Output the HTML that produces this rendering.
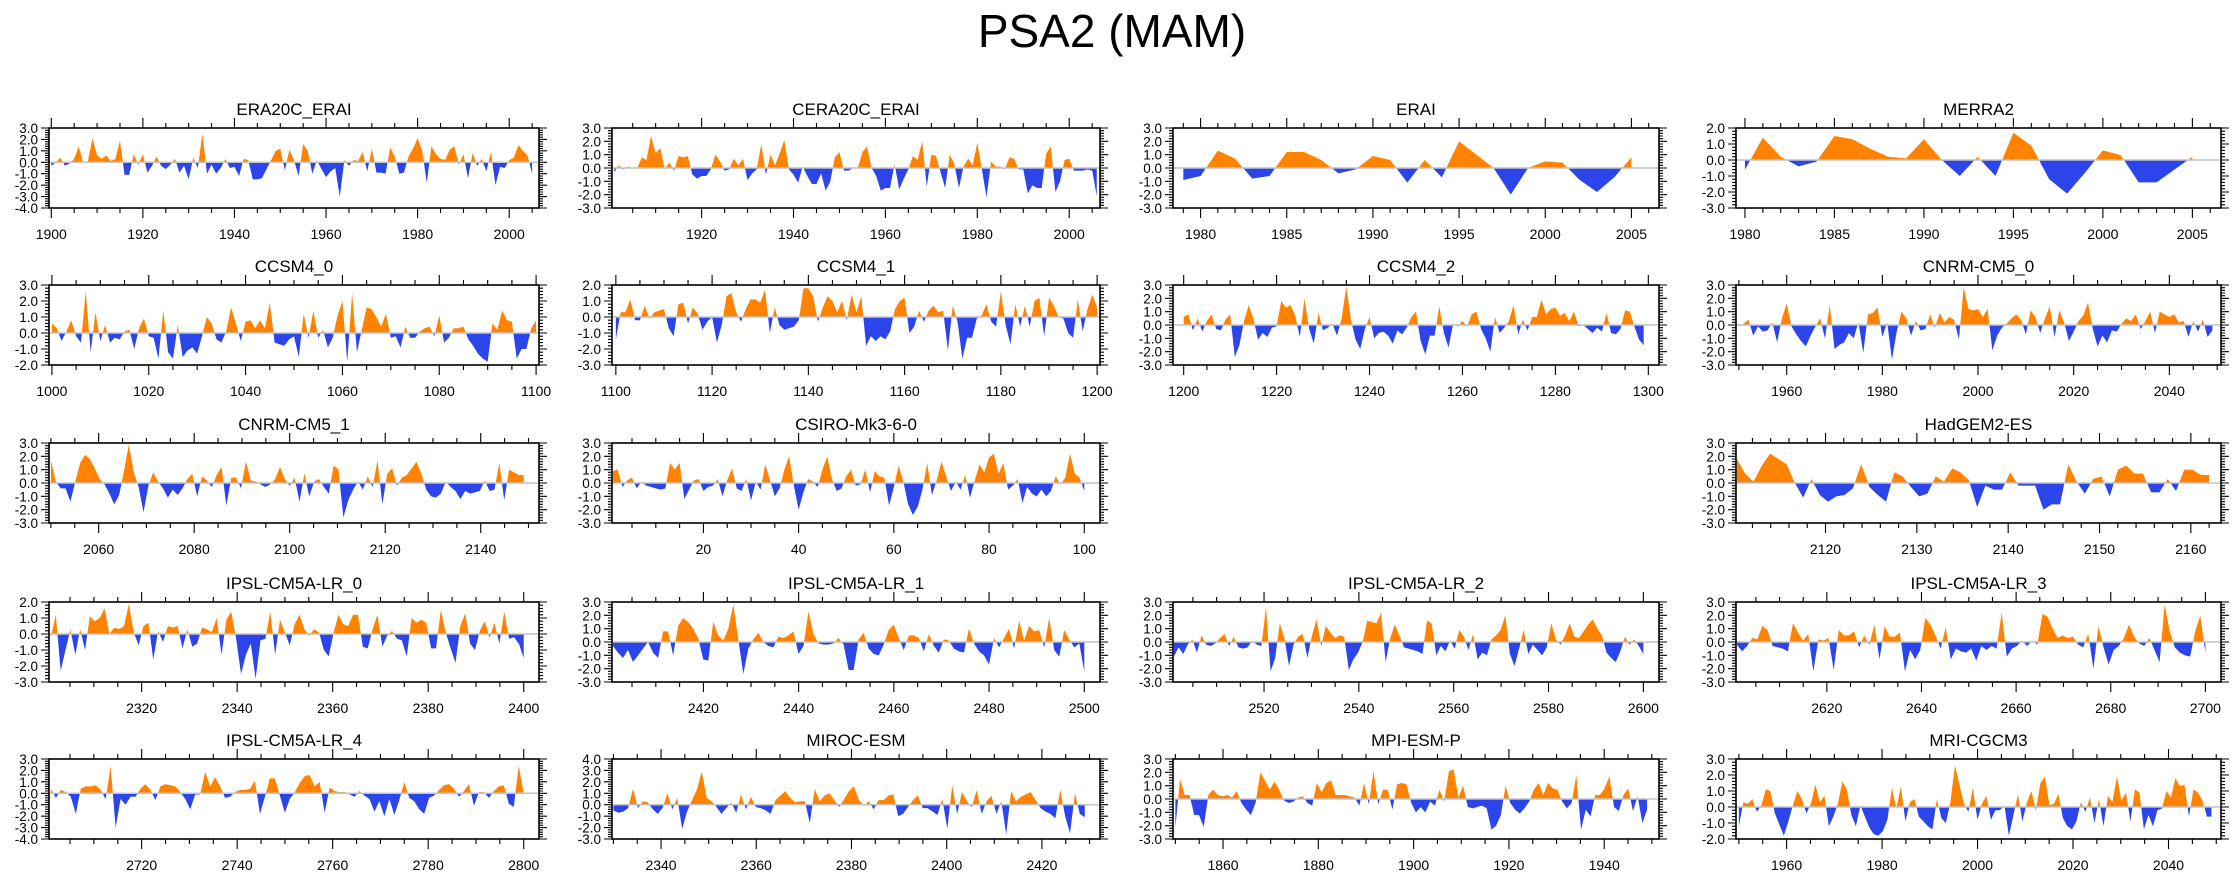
<!DOCTYPE html>
<html><head><meta charset="utf-8"><title>PSA2 (MAM)</title>
<style>
html,body{margin:0;padding:0;background:#fff;}
svg{display:block;font-family:"Liberation Sans",Arial,sans-serif;}
</style></head>
<body>
<svg id="chart" width="2238" height="877" viewBox="0 0 2238 877" xmlns="http://www.w3.org/2000/svg">
<rect x="0" y="0" width="2238" height="877" fill="#fff"/>
<text x="1112" y="47" font-size="46" text-anchor="middle" fill="#000">PSA2 (MAM)</text>
<g id="panels"></g>
</svg>
<script>
// ---- data ----
const panelNames = ["ERA20C_ERAI","CERA20C_ERAI","ERAI","MERRA2","CCSM4_0","CCSM4_1","CCSM4_2","CNRM-CM5_0","CNRM-CM5_1","CSIRO-Mk3-6-0","","HadGEM2-ES","IPSL-CM5A-LR_0","IPSL-CM5A-LR_1","IPSL-CM5A-LR_2","IPSL-CM5A-LR_3","IPSL-CM5A-LR_4","MIROC-ESM","MPI-ESM-P","MRI-CGCM3"];
const xStart = [1900,1901,1979,1980,1000,1100,1200,1950,2050,1,0,2110.3,2301,2401,2501,2601,2701,2330,1850,1950];
const xEnd   = [2005,2006,2005,2005,1100,1200,1299,2049,2149,100,0,2162,2400,2500,2600,2700,2800,2429,1949,2049];
const axisMin = [1899.5,1900.5,1978.4,1979.5,999.4,1099.2,1197.7,1949.4,2049.6,0.8,0,2110.2,2300.6,2400.8,2500.8,2600.8,2700.6,2329.7,1849.5,1949.4];
const axisMax = [2006.5,2006.7,2006.6,2006.6,1100.6,1200.6,1302.3,2050.8,2152.2,103.3,0,2163.3,2403.2,2503.3,2603.3,2703.3,2803.2,2432.2,1951.5,2051];
const yMin = [-4,-3,-3,-3,-2,-3,-3,-3,-3,-3,0,-3,-3,-3,-3,-3,-4,-3,-3,-2];
const yMax = [3,3,3,2,3,2,3,3,3,3,0,3,2,3,3,3,3,4,3,3];
const majorStep = [20,20,5,5,20,20,20,20,20,20,0,10,20,20,20,20,20,20,20,20];
const minorStep = [5,5,1,1,5,5,5,5,5,5,0,2,5,5,5,5,5,5,5,5];

const s0 = [-0.3,0,0.4,-0.3,-0.1,0.3,1.4,-0.1,0.1,2.1,0.6,0.3,0.6,0.1,0.3,1.9,-1.1,-1.1,0.7,-0.2,0.7,-0.9,-0.3,0.5,-0.3,-0.6,-0.2,0.3,-0.9,-0.3,-1.5,0.4,-0.5,2.5,-1.0,-0.2,-1.0,-0.5,0.3,-0.5,-0.4,-1.2,0.3,0.2,-1.5,-1.5,-1.4,-0.6,0.2,1.0,1.2,-0.7,1.1,0.2,-1.2,1.6,1.0,-1.0,0.2,-0.6,-1.3,-0.8,-0.5,-3.0,0.2,-0.3,0.2,0.1,0.9,-0.8,1.2,-0.9,-0.9,-1.0,1.3,0.5,-1.0,-0.9,0.5,1.2,2.1,1.0,-1.8,1.4,0.7,0.3,0.2,1.1,1.4,-0.2,0.7,-1.4,0.8,-0.3,0.3,-0.8,0.9,-2.0,-0.4,-0.5,0.2,0.4,1.5,1.0,0.6,-1.0];
const s1 = [-0.3,0.2,-0.1,0.1,0,0,0.8,0.6,2.4,1.1,1.5,-0.1,0.4,-0.2,0.9,0.8,0.9,-0.5,-0.8,-0.6,-0.6,-0.1,1.0,0.5,-0.2,-0.1,0.7,0.2,0.7,-0.9,-0.4,-0.1,1.8,-0.5,1.0,0.2,1.1,2.1,-0.1,-0.5,-1.1,0.1,-0.6,-1.2,-1.2,-0.4,-1.7,-1.0,0.8,1.2,-0.2,-0.2,0,0,1.2,1.6,0,-0.6,-1.7,-1.5,-1.5,0.3,-1.6,-0.8,-0.1,0.9,0.6,2.0,-1.4,1.0,0.9,-0.3,-1.5,1.0,0.3,-1.5,0.1,0.7,0.2,1.9,-0.1,-2.2,0.5,0.1,0.1,-0.1,0.8,0.7,-0.1,-0.1,-1.9,-1.3,-1.5,-1.5,1.1,1.6,-1.8,-1.0,0.6,0.7,-0.2,-0.2,-0.2,-0.1,-0.2,-2.1];
const s2 = [-0.9,-0.6,1.3,0.7,-0.8,-0.6,1.2,1.2,0.6,-0.4,-0.1,0.9,0.6,-1.1,0.6,-0.7,2.0,1.0,0,-2.0,0,0.5,0.4,-0.9,-1.8,-0.7,0.8];
const s3 = [-0.6,1.4,0.2,-0.4,-0.1,1.5,1.3,0.7,0.2,0.1,1.3,0,-1.0,0.2,-1.0,1.7,0.9,-1.2,-2.1,-0.8,0.6,0.3,-1.4,-1.4,-0.6,0.2];
const s4 = [0.6,0.3,-0.5,0.1,0.8,-0.2,-0.6,2.6,-1.2,1.3,-0.5,0.5,-0.6,-0.3,-0.4,0.1,0.2,-1.0,0.3,0.9,-0.2,-0.3,-1.6,1.4,-1.2,-1.6,0.5,-1.5,-1.1,-0.9,-1.3,-0.2,1.0,0.6,-0.4,-0.6,0.1,1.6,0.6,-0.5,0.7,0.8,0.3,0.8,0.3,1.9,-0.6,-0.7,-0.8,-0.4,-0.2,-1.5,1.2,-0.3,1.4,-0.3,0.2,-0.9,-0.3,1.1,2.0,-1.8,2.5,-1.2,0.2,1.6,1.5,1.0,0.4,1.2,-0.3,-0.2,-0.9,0.4,-0.3,-0.3,0.1,0.3,0.4,-0.2,1.1,-0.6,-0.3,0.3,0.3,0.4,-0.4,-0.8,-1.3,-1.6,-1.8,0.6,0.2,1.4,0.8,0.7,-1.6,-1.0,-1.0,0.3,0.8];
const s5 = [-1.4,0.3,0.3,1.1,-0.2,-0.2,0.7,-0.1,0.3,0.4,0.5,-0.7,-1.2,0.8,0.9,-0.4,0.6,0.2,-0.8,-0.3,0,-1.6,-0.5,1.3,1.5,0.3,-0.3,0.5,1.1,1.1,0.9,1.7,-1.0,0.6,-0.5,-0.8,-0.7,-0.6,-0.2,1.8,1.8,1.3,-0.3,0.6,1.3,1.0,0.3,1.0,-0.2,1.4,0.3,1.3,-1.8,-1.2,-1.5,-1.2,-1.4,-0.9,0.5,1.0,1.2,-1.0,-0.6,0.4,-0.3,0.4,0.7,0.3,0.4,-2.1,0.7,-0.3,-2.6,-1.3,-1.3,-0.1,0.1,0.8,-0.3,-0.6,1.6,-0.5,-1.7,0.8,-0.6,0.7,-0.6,1.0,1.2,-1.2,1.2,0.7,0,-0.1,-1.0,-1.3,1.1,-0.9,0.5,1.4,0.6];
const s6 = [0.6,0.8,-0.4,0.5,-0.5,0.3,0.8,-0.3,-0.4,0.4,0.8,-2.4,-1.5,0.3,1.5,0.5,-1.1,-0.6,-0.9,-0.2,-0.1,1.8,1.3,1.5,0.7,-0.9,2.0,-0.3,-1.4,0.9,-0.4,-0.2,0.1,-0.8,0.5,2.9,0.4,-1.1,-1.8,-0.3,0.6,-1.0,-0.6,-0.5,-0.8,-1.4,-0.4,-0.7,-0.2,0.6,1.0,-1.2,-2.2,-0.8,-0.8,1.4,-0.6,-1.7,0.1,-0.1,0.3,-0.1,0.8,1.0,-0.3,-1.0,-2.0,0.6,-0.6,-0.2,0.3,1.5,-0.7,0.4,-0.4,0.6,0.6,1.9,0.8,1.2,1.3,0.7,0.9,0.3,1.0,-0.1,0,-0.3,-0.6,-0.2,-0.5,0.9,-0.6,-0.7,-0.3,1.1,1.0,-0.1,-1.1,-1.5];
const s7 = [-0.1,0.1,0.4,-0.8,-0.1,-0.5,-0.4,0.2,-1.3,0.5,1.6,-0.1,-0.7,-1.2,-1.6,-0.8,-0.1,0.5,-1.0,1.5,-1.8,-1.5,-1.3,-0.6,-1.0,0.2,-2.1,0.8,0.9,1.3,-0.9,0.2,-2.6,-0.5,1.0,0.5,-0.8,0.3,-0.4,-0.3,0.8,-0.2,0.9,0.2,0.6,0.4,-1.1,2.8,1.2,1.1,1.2,0.6,1.2,-1.9,-0.8,-0.2,0.1,0.5,0.8,0.4,-0.7,1.1,0.6,-0.6,0.5,1.4,-0.9,1.1,0.2,-1.2,-0.5,0.3,0.7,1.7,-0.3,-1.6,-0.8,-1.3,-0.4,-0.5,0.1,0.5,0.3,0.8,-0.3,0.3,1.0,-0.6,1.0,0.8,0.6,0.8,0.2,0.3,-0.9,0.3,-0.5,0.4,-0.9,-0.4];
const s8 = [1.7,0.1,-0.4,-0.4,-1.4,0.1,1.5,2.1,1.8,1.1,0.3,-0.1,-0.8,-1.6,-0.9,0.9,2.9,0.8,-0.3,-2.2,-0.2,0.8,0.1,-0.4,-1.1,-0.5,-0.9,-0.4,0.3,0.7,-1.0,0.5,0.2,-0.3,0.6,1.2,-1.7,0.4,0.4,-0.4,1.6,0.2,0.1,-0.1,-0.3,-0.1,0.3,1.2,0.3,-0.2,0.4,-1.4,0.7,-1.0,0.1,0.3,-0.3,-0.8,1.3,1.0,-2.6,-1.3,-0.5,0.1,-0.5,0.5,-0.3,1.7,-1.6,0.7,1.1,-0.2,0.4,0.6,1.1,1.6,0.7,-0.5,-1.0,-1.1,-0.8,0.1,-0.3,-0.6,-1.2,-0.6,-0.8,-0.7,-0.6,0.2,-0.6,-0.5,1.5,-1.3,1.0,0.8,0.6,0.6];
const s9 = [0.9,1.0,-0.3,0.2,0.4,-0.4,0.1,-0.2,-0.3,-0.4,-0.5,-0.4,1.5,1.0,1.5,-1.2,-0.5,0.2,0.3,-0.6,-0.3,-0.2,0.3,-1.0,0.2,1.1,-0.4,-0.6,0.3,-1.3,0.1,-0.5,1.4,0.2,-1.0,-0.4,1.0,2.0,-0.2,-2.0,-0.7,0.3,0.1,-0.3,1.0,2.0,0.3,-0.6,-0.4,0.5,1.0,-0.2,-0.1,1.0,-0.7,0.9,0.5,0.4,-1.7,-0.3,1.3,0.1,-1.6,-2.4,-1.8,-0.5,1.5,-0.9,0.2,1.6,0.5,-0.6,0.1,-0.5,0.6,-1.1,0.2,1.4,0.8,1.9,2.2,0.7,1.5,-0.5,-0.2,0.3,-1.5,-0.3,-0.8,-1.0,-0.5,-1.0,-0.6,0.5,-0.1,0.4,2.2,0.7,0.4,-0.6];
const s10 = [];
const s11 = [1.8,0.7,0.1,1.3,2.2,1.8,1.4,0,-1.1,0.3,-0.9,-1.4,-1.0,-0.9,-0.4,1.4,-0.3,-0.9,-1.4,0.8,0.5,-0.3,-1.0,-0.8,0.5,0.1,1.1,0.8,0.2,-1.8,-0.2,-0.5,-0.5,0.8,-0.2,-0.2,-0.2,-2.0,-1.6,-1.6,1.4,0.1,-0.8,0.3,0.5,-1.0,1.0,1.3,0.7,0.7,-0.7,-0.7,0.3,-0.6,1.0,1.0,0.6,0.6];
const s12 = [-0.2,1.2,-2.3,-1.0,0.3,-1.3,0.3,-1.0,1.1,0.8,1.0,1.6,0,0.4,0.3,0.5,1.9,0.1,-0.7,0.5,0.7,-1.6,0.2,-0.5,0.5,0.4,0.5,-0.9,0.3,-0.8,-0.6,0.4,0.3,0.1,1.0,-1.3,0.9,1.4,-0.3,-2.5,-1.3,-0.6,-2.8,-0.4,-0.3,1.4,-1.3,0.9,0.1,-0.7,0.6,1.2,0.3,-0.1,0.3,0.1,-1.0,-1.4,0.1,1.2,0.6,0.5,1.2,1.2,-0.8,-0.9,0.3,1.2,-0.8,-0.1,0.2,-0.3,-0.4,-1.4,1.0,0.7,0.9,0.7,-0.9,-0.9,1.5,0.1,-0.9,-1.8,0.5,1.3,-0.6,-1.0,0.2,0.8,-0.2,0.7,-0.6,1.4,-0.3,-0.2,-0.6,-1.5];
const s13 = [-0.3,-0.8,-1.2,-0.6,-1.5,-1.0,-0.5,0,-0.8,-1.2,0.8,0.8,-1.0,1.2,1.8,1.5,1.0,0.3,-1.3,-1.4,1.5,0.5,0.1,1.0,2.8,0.2,-2.4,-0.5,0.2,0.7,0,-0.3,-0.4,0.4,0.3,0.5,0.8,-0.9,-0.3,2.3,0.6,-0.1,-0.2,-0.2,-0.1,0.3,-0.2,-2.1,-2.1,0.2,0.7,-0.5,-0.9,-1.0,-0.2,0.9,1.3,0.3,-0.6,0.5,0.5,0.3,-0.7,0.6,-0.3,-0.8,0.2,0.1,-0.5,-0.7,-0.8,1.0,-0.1,-0.7,-1.0,-1.7,0.3,-0.4,0.3,1.0,-0.5,1.6,0.1,1.2,0.8,0.9,-0.4,1.8,-0.6,-1.1,0.9,0.2,-0.4,-0.1,-2.2];
const s14 = [-1.1,-0.4,-0.9,-0.2,0.2,-0.8,0.5,-0.2,-0.3,-0.1,0.3,0.6,-0.3,0.4,-0.4,-0.5,-0.4,0.1,-0.2,-0.3,2.6,-2.2,-1.2,1.4,0.3,-1.8,-0.2,0.4,0.6,-1.2,0.5,1.7,-0.3,1.2,0.7,0.3,0.5,0.4,-2.1,-1.3,-0.8,0,1.6,1.5,1.4,2.2,-1.5,0.3,1.3,0.5,-0.4,-0.5,-0.6,-0.7,-0.9,1.6,1.4,-1.0,-0.3,-0.7,0.1,-0.5,0.9,0.4,-0.6,0.6,-1.3,-0.8,-1.0,0.2,0.5,0.9,2.0,-0.9,-1.8,-0.5,0.9,-0.9,-0.2,-0.6,-1.0,-0.4,1.4,0.2,-0.2,0.5,1.4,0.4,0.3,0.8,1.3,1.7,1.0,0.5,-0.8,-1.2,-1.5,-0.7,0.4,-0.2,0.2,-0.3,-0.9];
const s15 = [-0.2,-0.7,-0.3,0.3,0.2,1.2,0.9,-0.3,-0.4,-0.5,-0.7,1.4,0.7,0.1,0.6,-2.2,0.2,0.1,0.3,-2.1,0.9,0.5,0.5,0.8,-0.4,0.5,-0.2,1.3,-1.3,1.2,0.4,0.4,0.7,-2.2,-0.6,-1.3,-0.6,1.8,1.3,0.5,-0.5,1.1,-1.3,-0.5,-0.7,-0.8,-0.5,-1.4,-0.3,-0.6,-0.3,-0.5,2.2,-1.1,-0.5,-0.3,0.1,-0.3,0.1,-0.2,2.1,1.9,1.0,0.3,0.5,0.3,0.4,-0.2,-0.4,0.6,-2.0,1.2,-0.4,-1.7,-0.6,-0.3,0.3,1.3,0.4,-0.1,-0.3,0.3,-0.6,-1.5,2.8,0.8,-0.4,-0.8,-1.0,-1.1,0.8,2.0,-0.8];
const s16 = [0.4,-0.4,0.3,0.1,-0.3,-1.8,0.4,0.6,0.6,0.7,0.3,-0.5,2.4,-3.0,-0.5,-1.0,-0.3,-0.3,0.4,0.8,0.3,-0.6,0.6,0.8,0.7,0.6,0.1,-0.5,-1.4,-0.1,-0.1,1.9,0.6,1.4,0.6,-0.4,-0.3,0.1,0.3,0.3,0.4,1.1,-1.8,-0.3,1.3,1.3,-0.2,-1.7,-0.5,0.1,0.9,1.5,1.6,0.6,1.0,-1.7,0.5,0.2,0.1,0.1,-0.1,-0.3,0.2,-0.2,-0.5,-1.6,-0.7,-2.0,-0.5,-1.9,-0.6,1.0,-0.4,-0.7,-1.4,-1.8,-0.4,-0.2,0.3,0.7,0.8,0.4,-0.3,0.2,0.8,-1.1,0.1,0.1,-0.4,0.2,0.6,0.7,-0.9,-1.2,2.4,0];
const s17 = [-0.5,-0.7,-0.6,-0.3,1.4,-0.3,0.3,0.2,-0.4,-0.8,-0.3,1.0,-0.4,0.6,-2.1,-0.6,0.4,1.3,2.9,0.6,0.3,-0.2,-0.8,-0.3,0.2,-0.7,0.9,-0.4,0.7,-0.2,-0.3,-0.5,-0.8,0.4,0.8,1.2,0.6,0.2,0.3,0.3,-1.6,1.4,0.3,0.8,1.0,0.4,-0.2,0.5,1.2,1.6,0.4,-0.1,0.3,-0.4,0.4,0.4,0.8,0.9,-1.0,-0.8,-0.2,0.4,0.8,-0.3,-0.3,-0.6,-0.9,0.5,-2.1,1.7,-0.8,1.1,0.3,-0.2,1.3,-0.8,0.3,0.8,-0.8,0.3,-2.6,1.2,0.3,0.7,0.9,1.1,0.4,-0.3,-0.6,-0.8,-1.2,1.3,-1.0,-2.5,1.0,-0.8,-1.1];
const s18 = [-2.1,1.5,0.3,0.3,-1.2,-1.2,-2.1,0.3,0.7,0.3,0.2,0.3,0.1,0.6,-0.3,-0.8,-1.2,-0.3,2.0,1.4,0.7,1.3,0.7,-0.1,-0.3,-0.2,0.1,0.2,-0.3,-0.5,1.2,0.5,1.2,1.4,0.3,0.3,0.3,0.2,0.1,-0.5,1.2,-0.4,2.1,-0.4,0.7,0.7,-0.8,1.1,1.2,1.1,-0.3,-1.0,-0.6,-1.0,-0.2,-0.5,0.7,-0.2,2.1,2.2,0.1,1.0,-0.6,-0.7,-0.6,-0.5,-0.7,-2.3,-2.0,-1.2,1.0,-0.3,-0.8,-1.1,-0.7,-0.2,0.7,1.2,0.3,1.2,0.8,0.7,-0.2,-0.7,-0.3,1.8,-2.3,-0.8,-1.3,0.3,0.3,0.8,1.7,-0.6,-0.9,0.3,0.8,-0.9,0.2,-1.8,-0.8];
const s19 = [-1.2,0.3,0.2,0.5,-0.3,0.1,1.1,1.0,-0.4,-1.1,-1.8,-0.9,0.1,1.0,0.5,-0.4,0.2,1.4,0.3,0.7,-1.2,-0.6,0.2,1.6,1.1,-0.5,-1.2,0.1,-0.6,-1.3,-1.7,-1.8,-1.5,-0.8,1.2,-0.1,1.3,-0.9,0.3,0.5,-0.6,-0.9,-1.2,-1.4,0.5,-0.7,-1.0,0.3,2.6,1.4,0.2,-0.3,1.2,-0.8,0.2,0.7,-0.8,-0.2,-0.2,0.1,-1.8,-0.5,0.8,-0.9,0.3,1.0,-0.2,1.5,1.9,0.1,0.2,0.8,-0.7,-1.2,-1.4,-0.9,0.3,-0.3,0.6,-1.0,0.5,-1.2,0.7,0.3,1.9,0.4,0.9,-0.9,1.1,0.9,-1.4,-0.5,-1.2,-0.2,-0.1,1.0,0.6,1.8,1.3,1.4,-0.6,1.1,0.9,0.4,-0.6,-0.6];
const series = [s0,s1,s2,s3,s4,s5,s6,s7,s8,s9,s10,s11,s12,s13,s14,s15,s16,s17,s18,s19];

// ---- layout ----
const colLeft = [49,612,1173,1736];
const colW = [490,488,486,485];
const rowTop = [128,285,443,602,759];
const plotH = 80;
const NS = "http://www.w3.org/2000/svg";
const root = document.getElementById("panels");
const ORANGE = "#ff8300", BLUE = "#2b45eb";

function mk(tag, attrs, parent){
  const e = document.createElementNS(NS, tag);
  for (const k in attrs) e.setAttribute(k, attrs[k]);
  parent.appendChild(e);
  return e;
}
function fmtY(v){ return v.toFixed(1); }

panelNames.forEach((name, i) => {
  if (!name) return;
  const col = i % 4, row = Math.floor(i / 4);
  const L = colLeft[col], W = colW[col], T = rowTop[row], H = plotH;
  const xs = v => L + (v - axisMin[i]) / (axisMax[i] - axisMin[i]) * W;
  const ys = v => T + (yMax[i] - v) / (yMax[i] - yMin[i]) * H;
  const g = mk("g", {}, root);
  
  

  const t = mk("text", {x: L + W/2, y: T - 13, "font-size": 17, "text-anchor": "middle", fill: "#000"}, g);
  t.textContent = name;
  
  

  const vals = series[i];
  const n = vals.length;
  const step = (xEnd[i] - xStart[i]) / (n - 1);
  const pts = [];
  for (let k = 0; k < n; k++) {
    const x = xStart[i] + k * step, v = vals[k];
    if (k > 0) {
      const pv = vals[k-1], px = x - step;
      if ((pv > 0 && v < 0) || (pv < 0 && v > 0)) {
        pts.push([px + step * pv / (pv - v), 0]);
      }
    }
    pts.push([x, v]);
  }
  const x0 = pts[0][0], x1 = pts[pts.length-1][0];
  function area(sel){
    let d = "M" + xs(x0).toFixed(2) + "," + ys(0).toFixed(2);
    pts.forEach(p => { d += "L" + xs(p[0]).toFixed(2) + "," + ys(sel(p[1])).toFixed(2); });
    d += "L" + xs(x1).toFixed(2) + "," + ys(0).toFixed(2) + "Z";
    return d;
  }
  const pos = mk("path", {d: area(v => Math.max(v,0)), fill: ORANGE}, g);
  
  
  const neg = mk("path", {d: area(v => Math.min(v,0)), fill: BLUE}, g);
  
  
  const zl = mk("line", {x1: L, x2: L + W, y1: ys(0), y2: ys(0), stroke: "#c4c4c4", "stroke-width": 1.5}, g);
  
  

  const box = mk("rect", {x: L, y: T, width: W, height: H, fill: "none", stroke: "#000", "stroke-width": 1.6}, g);
  
  

  let tk = "";
  const mn = minorStep[i], mj = majorStep[i];
  for (let v = Math.ceil(axisMin[i] / mn) * mn; v <= axisMax[i]; v += mn) {
    const X = xs(v).toFixed(2);
    const len = (v % mj === 0) ? 10 : 5;
    tk += "M" + X + "," + (T + H) + "v" + len + "M" + X + "," + T + "v" + (-len);
  }
  for (let k = Math.round(yMin[i] * 5); k <= Math.round(yMax[i] * 5); k++) {
    const Y = ys(k / 5).toFixed(2);
    const len = (k % 5 === 0) ? 8 : 4;
    tk += "M" + L + "," + Y + "h" + (-len) + "M" + (L + W) + "," + Y + "h" + len;
  }
  const ticks = mk("path", {d: tk, stroke: "#000", "stroke-width": 1.1, fill: "none"}, g);
  
  

  for (let v = Math.ceil(axisMin[i] / mj) * mj; v <= axisMax[i]; v += mj) {
    const lb = mk("text", {x: xs(v), y: T + H + 31, "font-size": 14, "text-anchor": "middle", fill: "#000"}, g);
    lb.textContent = String(v);
    
    
  }
  for (let v = yMin[i]; v <= yMax[i]; v++) {
    const lb = mk("text", {x: L - 11, y: ys(v) + 5, "font-size": 13.5, "text-anchor": "end", fill: "#000"}, g);
    lb.textContent = fmtY(v);
    
    
  }
});
</script>
</body></html>
